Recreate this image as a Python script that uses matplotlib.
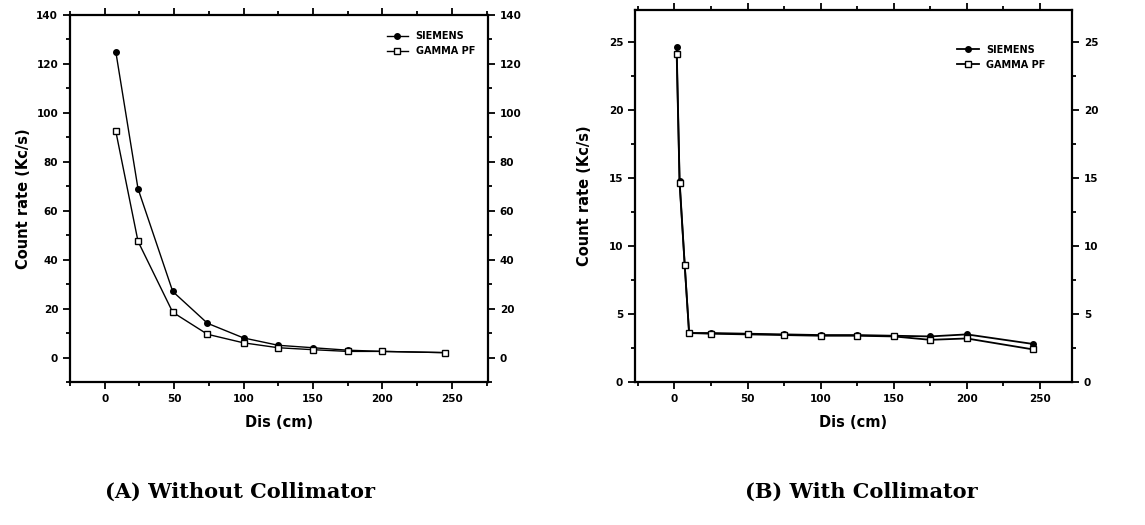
import numpy as np
import matplotlib
matplotlib.use("Agg")
import matplotlib.pyplot as plt
from matplotlib.ticker import MultipleLocator

# Data (A) without collimator
dist_a = [8, 24, 49, 74, 100, 125, 150, 175, 200, 245]
siemens_a = [125, 69, 27, 14, 8, 5, 4, 3, 2.5, 2]
gamma_a = [92.5, 47.5, 18.5, 9.5, 6, 4, 3.2, 2.5, 2.5, 2]

# Data (B) with collimator
dist_b = [1.5, 3.5, 7, 10, 25, 50, 75, 100, 125, 150, 175, 200, 245]
siemens_b = [24.6, 14.8, 8.6, 3.6, 3.6, 3.55, 3.5, 3.45, 3.45, 3.4, 3.35, 3.5, 2.8]
gamma_b = [24.1, 14.6, 8.6, 3.6, 3.55, 3.5, 3.45, 3.4, 3.4, 3.35, 3.1, 3.2, 2.4]

plt.rcParams["font.family"] = "DejaVu Sans"

fig = plt.figure(figsize=(11.45, 5.25), dpi=100)
ax1 = fig.add_axes([0.0611, 0.2724, 0.3651, 0.699])
ax2 = fig.add_axes([0.5546, 0.2724, 0.3817, 0.7086])


def style(ax, ylim, ymaj, ymin, xlim, ypad):
    ax.set_xlim(*xlim)
    ax.set_ylim(*ylim)
    ax.xaxis.set_major_locator(MultipleLocator(50))
    ax.xaxis.set_minor_locator(MultipleLocator(25))
    ax.yaxis.set_major_locator(MultipleLocator(ymaj))
    ax.yaxis.set_minor_locator(MultipleLocator(ymin))
    for s in ax.spines.values():
        s.set_linewidth(1.6)
    ax.tick_params(which="both", direction="out", right=True, labelright=True,
                   top=True, width=1.3, labelsize=7.5)
    ax.tick_params(which="major", length=5)
    ax.tick_params(which="minor", length=3)
    for lab in ax.get_xticklabels() + ax.get_yticklabels():
        lab.set_fontweight("bold")
    ax.set_xlabel("Dis (cm)", fontsize=10.5, fontweight="bold", labelpad=8)
    ax.set_ylabel("Count rate (Kc/s)", fontsize=10.5, fontweight="bold", labelpad=ypad)


ax1.plot(dist_a, siemens_a, "-", color="black", lw=1.0, marker="o", ms=4,
         mfc="black", label="SIEMENS")
ax1.plot(dist_a, gamma_a, "-", color="black", lw=1.0, marker="s", ms=5,
         mfc="white", label="GAMMA PF")
style(ax1, (-10, 140), 20, 10, (-25, 276), 4)
ax1.legend(loc="upper right", bbox_to_anchor=(0.99, 0.98), frameon=False,
           prop={"size": 7, "weight": "bold"}, handlelength=2.2)

ax2.plot(dist_b, siemens_b, "-", color="black", lw=1.3, marker="o", ms=4,
         mfc="black", label="SIEMENS")
ax2.plot(dist_b, gamma_b, "-", color="black", lw=1.3, marker="s", ms=5,
         mfc="white", label="GAMMA PF")
style(ax2, (0, 27.35), 5, 2.5, (-27, 272), 12)
ax2.legend(loc="upper right", bbox_to_anchor=(0.96, 0.93), frameon=False,
           prop={"size": 7, "weight": "bold"}, handlelength=2.2)

fig.text(0.21, 0.063, "(A) Without Collimator", ha="center", va="center",
         fontsize=15, fontweight="bold", family="DejaVu Serif")
fig.text(0.752, 0.063, "(B) With Collimator", ha="center", va="center",
         fontsize=15, fontweight="bold", family="DejaVu Serif")

fig.savefig("out.png", dpi=100)
